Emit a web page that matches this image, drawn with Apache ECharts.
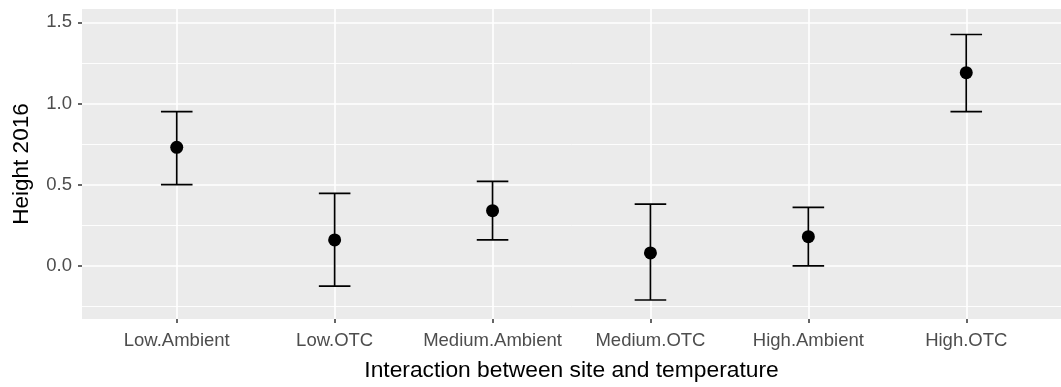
<!DOCTYPE html>
<html>
<head>
<meta charset="utf-8">
<script src="https://cdn.jsdelivr.net/npm/echarts@6/dist/echarts.min.js"></script>
<style>
html,body{margin:0;padding:0;background:#fff;}
#chart{width:1061px;height:387px;}
</style>
</head>
<body>
<div id="chart"></div>
<script>
var categories = ['Low.Ambient','Low.OTC','Medium.Ambient','Medium.OTC','High.Ambient','High.OTC'];
var means = [0.73, 0.16, 0.34, 0.08, 0.18, 1.19];
var lower = [0.50, -0.125, 0.16, -0.21, 0.00, 0.95];
var upper = [0.95, 0.447, 0.52, 0.38, 0.36, 1.425];
var yTicks = [0, 0.5, 1.0, 1.5];
var yMinor = [-0.25, 0.25, 0.75, 1.25];
var xTicks = [0, 1, 2, 3, 4, 5];

var FONT = 'Liberation Sans, Arial, sans-serif';
var chart = echarts.init(document.getElementById('chart'));

var pointData = means.map(function(m, i){ return [i, m]; });
var barData = means.map(function(m, i){ return [i, lower[i], upper[i]]; });

var option = {
  animation: false,
  grid: {left: 82, top: 9, width: 985, height: 313, show: true, backgroundColor: '#EBEBEB', borderWidth: 0, containLabel: false},
  xAxis: {
    type: 'value', min: -0.6, max: 5.6,
    name: 'Interaction between site and temperature',
    nameLocation: 'middle', nameGap: 40,
    nameTextStyle: {color: '#000', fontSize: 22.8, fontFamily: FONT},
    axisLine: {show: false, onZero: false},
    axisTick: {show: true, length: 4, customValues: xTicks, lineStyle: {color: '#333', width: 1.5}},
    axisLabel: {customValues: xTicks, color: '#4D4D4D', fontSize: 18.5, fontFamily: FONT, margin: 12,
      formatter: function(v){ return categories[Math.round(v)]; }},
    splitLine: {show: true, lineStyle: {color: '#fff', width: 1.6}}
  },
  yAxis: {
    type: 'value', min: -0.327, max: 1.582,
    name: 'Height 2016',
    nameLocation: 'middle', nameGap: 49,
    nameTextStyle: {color: '#000', fontSize: 22.5, fontFamily: FONT},
    axisLine: {show: false, onZero: false},
    axisTick: {show: true, length: 4, customValues: yTicks, lineStyle: {color: '#333', width: 1.5}},
    axisLabel: {customValues: yTicks, color: '#4D4D4D', fontSize: 18.5, fontFamily: FONT, margin: 10,
      formatter: function(v){ return v.toFixed(1); }},
    splitLine: {show: true, lineStyle: {color: '#fff', width: 1.6}}
  },
  series: [
    {
      type: 'line', data: [], silent: true, z: 1,
      markLine: {
        silent: true, symbol: 'none', label: {show: false}, z: 1,
        lineStyle: {color: '#fff', width: 0.9, type: 'solid'},
        data: yMinor.map(function(v){ return {yAxis: v}; })
      }
    },
    {
      type: 'custom', z: 3,
      data: barData,
      renderItem: function(params, api){
        var x = api.value(0), lo = api.value(1), hi = api.value(2);
        var pTop = api.coord([x, hi]);
        var pBot = api.coord([x, lo]);
        var capL = api.coord([x - 0.1, hi]);
        var capR = api.coord([x + 0.1, hi]);
        var capL2 = api.coord([x - 0.1, lo]);
        var capR2 = api.coord([x + 0.1, lo]);
        var st = {stroke: '#000', lineWidth: 1.7};
        return {type: 'group', children: [
          {type: 'line', shape: {x1: pTop[0], y1: pTop[1], x2: pBot[0], y2: pBot[1]}, style: st},
          {type: 'line', shape: {x1: capL[0], y1: capL[1], x2: capR[0], y2: capR[1]}, style: st},
          {type: 'line', shape: {x1: capL2[0], y1: capL2[1], x2: capR2[0], y2: capR2[1]}, style: st}
        ]};
      }
    },
    {
      type: 'scatter', z: 4, data: pointData, symbol: 'circle', symbolSize: 13,
      itemStyle: {color: '#000', opacity: 1}
    }
  ]
};
chart.setOption(option);
</script>
</body>
</html>
